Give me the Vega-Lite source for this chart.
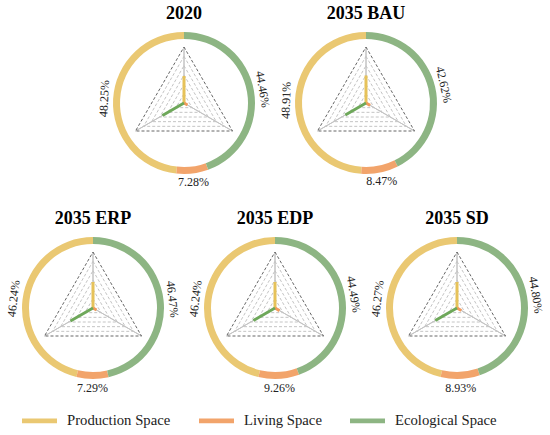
{
  "$schema": "https://vega.github.io/schema/vega-lite/v6.json",
  "padding": {"left": 2, "top": 5, "right": 2, "bottom": 0},
  "datasets": {
    "shares": [
      {"scenario": "2020", "space": "Production Space", "value": 0.4825},
      {"scenario": "2020", "space": "Living Space", "value": 0.0728},
      {"scenario": "2020", "space": "Ecological Space", "value": 0.4446},
      {"scenario": "2035 BAU", "space": "Production Space", "value": 0.4891},
      {"scenario": "2035 BAU", "space": "Living Space", "value": 0.0847},
      {"scenario": "2035 BAU", "space": "Ecological Space", "value": 0.4262},
      {"scenario": "2035 ERP", "space": "Production Space", "value": 0.4624},
      {"scenario": "2035 ERP", "space": "Living Space", "value": 0.0729},
      {"scenario": "2035 ERP", "space": "Ecological Space", "value": 0.4647},
      {"scenario": "2035 EDP", "space": "Production Space", "value": 0.4624},
      {"scenario": "2035 EDP", "space": "Living Space", "value": 0.0926},
      {"scenario": "2035 EDP", "space": "Ecological Space", "value": 0.4449},
      {"scenario": "2035 SD", "space": "Production Space", "value": 0.4627},
      {"scenario": "2035 SD", "space": "Living Space", "value": 0.0893},
      {"scenario": "2035 SD", "space": "Ecological Space", "value": 0.4480}
    ],
    "levels": [
      {"level": 1}, {"level": 2}, {"level": 3}, {"level": 4}, {"level": 5}, {"level": 6}
    ]
  },
  "spacing": 20,
  "center": true,
  "vconcat": [
    {
      "spacing": 0,
      "hconcat": [
        {
          "title": "2020",
          "width": 182, "height": 174,
          "data": {"name": "shares"},
          "transform": [{"filter": "datum.scenario === '2020'"}],
          "resolve": {"scale": {"theta": "independent"}},
          "layer": [
            {
              "mark": {"type": "arc", "innerRadius": 64, "outerRadius": 71},
              "encoding": {
                "theta": {"field": "value", "type": "quantitative", "stack": true},
                "order": {"field": "space", "type": "ordinal", "sort": "ascending"},
                "color": {"field": "space", "type": "nominal", "scale": {"domain": ["Production Space", "Living Space", "Ecological Space"], "range": ["#EAC872", "#F2A46B", "#8DB583"]}}
              }
            },
            {
              "mark": {"type": "arc", "outerRadius": 56, "filled": false, "stroke": "#c4c4c4", "strokeWidth": 1},
              "encoding": {
                "theta": {"field": "space", "type": "nominal", "scale": {"type": "point", "domain": ["Production Space", "Living Space", "Ecological Space"], "range": [0, 4.18879], "padding": 0}},
                "theta2": {"field": "space"}
              }
            },
            {
              "data": {"name": "levels"},
              "transform": [{"filter": "datum.level < 6"}],
              "mark": {"type": "point", "shape": "M0,-1L0.866,0.5L-0.866,0.5Z", "filled": false, "stroke": "#c4c4c4", "strokeWidth": 1, "strokeDash": [3, 2], "opacity": 1},
              "encoding": {"size": {"field": "level", "type": "quantitative", "scale": {"type": "pow", "exponent": 2, "domain": [0, 6], "range": [0, 12544]}, "legend": null}}
            },
            {
              "data": {"name": "levels"},
              "transform": [{"filter": "datum.level == 6"}],
              "mark": {"type": "point", "shape": "M0,-1L0.866,0.5L-0.866,0.5Z", "filled": false, "stroke": "#666666", "strokeWidth": 1, "strokeDash": [3, 2], "opacity": 1},
              "encoding": {"size": {"field": "level", "type": "quantitative", "scale": {"type": "pow", "exponent": 2, "domain": [0, 6], "range": [0, 12544]}, "legend": null}}
            },
            {
              "mark": {"type": "arc", "filled": false, "strokeWidth": 3},
              "encoding": {
                "theta": {"field": "space", "type": "nominal", "scale": {"type": "point", "domain": ["Production Space", "Living Space", "Ecological Space"], "range": [0, 4.18879], "padding": 0}},
                "theta2": {"field": "space"},
                "radius": {"field": "value", "type": "quantitative", "scale": {"type": "linear", "domain": [0, 1], "range": [0, 56], "zero": true}},
                "stroke": {"condition": [{"test": "datum.space === 'Ecological Space'", "value": "#6EA85A"}, {"test": "datum.space === 'Living Space'", "value": "#F29A5C"}], "value": "#E6C25A"}
              }
            },
            {
              "mark": {"type": "text", "radius": 80, "fontSize": 12, "color": "#222222"},
              "encoding": {
                "theta": {"field": "value", "type": "quantitative", "stack": true},
                "order": {"field": "space", "type": "ordinal", "sort": "ascending"},
                "detail": {"field": "space"},
                "text": {"field": "value", "type": "quantitative", "format": ".2%"},
                "angle": {"condition": [{"test": "datum.space === 'Ecological Space'", "value": 80}, {"test": "datum.space === 'Living Space'", "value": 0}], "value": 273}
              }
            }
          ]
        },
        {
          "title": "2035 BAU",
          "width": 182, "height": 174,
          "data": {"name": "shares"},
          "transform": [{"filter": "datum.scenario === '2035 BAU'"}],
          "resolve": {"scale": {"theta": "independent"}},
          "layer": [
            {
              "mark": {"type": "arc", "innerRadius": 64, "outerRadius": 71},
              "encoding": {
                "theta": {"field": "value", "type": "quantitative", "stack": true},
                "order": {"field": "space", "type": "ordinal", "sort": "ascending"},
                "color": {"field": "space", "type": "nominal", "scale": {"domain": ["Production Space", "Living Space", "Ecological Space"], "range": ["#EAC872", "#F2A46B", "#8DB583"]}}
              }
            },
            {
              "mark": {"type": "arc", "outerRadius": 56, "filled": false, "stroke": "#c4c4c4", "strokeWidth": 1},
              "encoding": {
                "theta": {"field": "space", "type": "nominal", "scale": {"type": "point", "domain": ["Production Space", "Living Space", "Ecological Space"], "range": [0, 4.18879], "padding": 0}},
                "theta2": {"field": "space"}
              }
            },
            {
              "data": {"name": "levels"},
              "transform": [{"filter": "datum.level < 6"}],
              "mark": {"type": "point", "shape": "M0,-1L0.866,0.5L-0.866,0.5Z", "filled": false, "stroke": "#c4c4c4", "strokeWidth": 1, "strokeDash": [3, 2], "opacity": 1},
              "encoding": {"size": {"field": "level", "type": "quantitative", "scale": {"type": "pow", "exponent": 2, "domain": [0, 6], "range": [0, 12544]}, "legend": null}}
            },
            {
              "data": {"name": "levels"},
              "transform": [{"filter": "datum.level == 6"}],
              "mark": {"type": "point", "shape": "M0,-1L0.866,0.5L-0.866,0.5Z", "filled": false, "stroke": "#666666", "strokeWidth": 1, "strokeDash": [3, 2], "opacity": 1},
              "encoding": {"size": {"field": "level", "type": "quantitative", "scale": {"type": "pow", "exponent": 2, "domain": [0, 6], "range": [0, 12544]}, "legend": null}}
            },
            {
              "mark": {"type": "arc", "filled": false, "strokeWidth": 3},
              "encoding": {
                "theta": {"field": "space", "type": "nominal", "scale": {"type": "point", "domain": ["Production Space", "Living Space", "Ecological Space"], "range": [0, 4.18879], "padding": 0}},
                "theta2": {"field": "space"},
                "radius": {"field": "value", "type": "quantitative", "scale": {"type": "linear", "domain": [0, 1], "range": [0, 56], "zero": true}},
                "stroke": {"condition": [{"test": "datum.space === 'Ecological Space'", "value": "#6EA85A"}, {"test": "datum.space === 'Living Space'", "value": "#F29A5C"}], "value": "#E6C25A"}
              }
            },
            {
              "mark": {"type": "text", "radius": 80, "fontSize": 12, "color": "#222222"},
              "encoding": {
                "theta": {"field": "value", "type": "quantitative", "stack": true},
                "order": {"field": "space", "type": "ordinal", "sort": "ascending"},
                "detail": {"field": "space"},
                "text": {"field": "value", "type": "quantitative", "format": ".2%"},
                "angle": {"condition": [{"test": "datum.space === 'Ecological Space'", "value": 77}, {"test": "datum.space === 'Living Space'", "value": 0}], "value": 272}
              }
            }
          ]
        }
      ]
    },
    {
      "spacing": 0,
      "hconcat": [
        {
          "title": "2035 ERP",
          "width": 182, "height": 174,
          "data": {"name": "shares"},
          "transform": [{"filter": "datum.scenario === '2035 ERP'"}],
          "resolve": {"scale": {"theta": "independent"}},
          "layer": [
            {
              "mark": {"type": "arc", "innerRadius": 64, "outerRadius": 71},
              "encoding": {
                "theta": {"field": "value", "type": "quantitative", "stack": true},
                "order": {"field": "space", "type": "ordinal", "sort": "ascending"},
                "color": {"field": "space", "type": "nominal", "scale": {"domain": ["Production Space", "Living Space", "Ecological Space"], "range": ["#EAC872", "#F2A46B", "#8DB583"]}}
              }
            },
            {
              "mark": {"type": "arc", "outerRadius": 56, "filled": false, "stroke": "#c4c4c4", "strokeWidth": 1},
              "encoding": {
                "theta": {"field": "space", "type": "nominal", "scale": {"type": "point", "domain": ["Production Space", "Living Space", "Ecological Space"], "range": [0, 4.18879], "padding": 0}},
                "theta2": {"field": "space"}
              }
            },
            {
              "data": {"name": "levels"},
              "transform": [{"filter": "datum.level < 6"}],
              "mark": {"type": "point", "shape": "M0,-1L0.866,0.5L-0.866,0.5Z", "filled": false, "stroke": "#c4c4c4", "strokeWidth": 1, "strokeDash": [3, 2], "opacity": 1},
              "encoding": {"size": {"field": "level", "type": "quantitative", "scale": {"type": "pow", "exponent": 2, "domain": [0, 6], "range": [0, 12544]}, "legend": null}}
            },
            {
              "data": {"name": "levels"},
              "transform": [{"filter": "datum.level == 6"}],
              "mark": {"type": "point", "shape": "M0,-1L0.866,0.5L-0.866,0.5Z", "filled": false, "stroke": "#666666", "strokeWidth": 1, "strokeDash": [3, 2], "opacity": 1},
              "encoding": {"size": {"field": "level", "type": "quantitative", "scale": {"type": "pow", "exponent": 2, "domain": [0, 6], "range": [0, 12544]}, "legend": null}}
            },
            {
              "mark": {"type": "arc", "filled": false, "strokeWidth": 3},
              "encoding": {
                "theta": {"field": "space", "type": "nominal", "scale": {"type": "point", "domain": ["Production Space", "Living Space", "Ecological Space"], "range": [0, 4.18879], "padding": 0}},
                "theta2": {"field": "space"},
                "radius": {"field": "value", "type": "quantitative", "scale": {"type": "linear", "domain": [0, 1], "range": [0, 56], "zero": true}},
                "stroke": {"condition": [{"test": "datum.space === 'Ecological Space'", "value": "#6EA85A"}, {"test": "datum.space === 'Living Space'", "value": "#F29A5C"}], "value": "#E6C25A"}
              }
            },
            {
              "mark": {"type": "text", "radius": 80, "fontSize": 12, "color": "#222222"},
              "encoding": {
                "theta": {"field": "value", "type": "quantitative", "stack": true},
                "order": {"field": "space", "type": "ordinal", "sort": "ascending"},
                "detail": {"field": "space"},
                "text": {"field": "value", "type": "quantitative", "format": ".2%"},
                "angle": {"condition": [{"test": "datum.space === 'Ecological Space'", "value": 84}, {"test": "datum.space === 'Living Space'", "value": 0}], "value": 277}
              }
            }
          ]
        },
        {
          "title": "2035 EDP",
          "width": 182, "height": 174,
          "data": {"name": "shares"},
          "transform": [{"filter": "datum.scenario === '2035 EDP'"}],
          "resolve": {"scale": {"theta": "independent"}},
          "layer": [
            {
              "mark": {"type": "arc", "innerRadius": 64, "outerRadius": 71},
              "encoding": {
                "theta": {"field": "value", "type": "quantitative", "stack": true},
                "order": {"field": "space", "type": "ordinal", "sort": "ascending"},
                "color": {"field": "space", "type": "nominal", "scale": {"domain": ["Production Space", "Living Space", "Ecological Space"], "range": ["#EAC872", "#F2A46B", "#8DB583"]}}
              }
            },
            {
              "mark": {"type": "arc", "outerRadius": 56, "filled": false, "stroke": "#c4c4c4", "strokeWidth": 1},
              "encoding": {
                "theta": {"field": "space", "type": "nominal", "scale": {"type": "point", "domain": ["Production Space", "Living Space", "Ecological Space"], "range": [0, 4.18879], "padding": 0}},
                "theta2": {"field": "space"}
              }
            },
            {
              "data": {"name": "levels"},
              "transform": [{"filter": "datum.level < 6"}],
              "mark": {"type": "point", "shape": "M0,-1L0.866,0.5L-0.866,0.5Z", "filled": false, "stroke": "#c4c4c4", "strokeWidth": 1, "strokeDash": [3, 2], "opacity": 1},
              "encoding": {"size": {"field": "level", "type": "quantitative", "scale": {"type": "pow", "exponent": 2, "domain": [0, 6], "range": [0, 12544]}, "legend": null}}
            },
            {
              "data": {"name": "levels"},
              "transform": [{"filter": "datum.level == 6"}],
              "mark": {"type": "point", "shape": "M0,-1L0.866,0.5L-0.866,0.5Z", "filled": false, "stroke": "#666666", "strokeWidth": 1, "strokeDash": [3, 2], "opacity": 1},
              "encoding": {"size": {"field": "level", "type": "quantitative", "scale": {"type": "pow", "exponent": 2, "domain": [0, 6], "range": [0, 12544]}, "legend": null}}
            },
            {
              "mark": {"type": "arc", "filled": false, "strokeWidth": 3},
              "encoding": {
                "theta": {"field": "space", "type": "nominal", "scale": {"type": "point", "domain": ["Production Space", "Living Space", "Ecological Space"], "range": [0, 4.18879], "padding": 0}},
                "theta2": {"field": "space"},
                "radius": {"field": "value", "type": "quantitative", "scale": {"type": "linear", "domain": [0, 1], "range": [0, 56], "zero": true}},
                "stroke": {"condition": [{"test": "datum.space === 'Ecological Space'", "value": "#6EA85A"}, {"test": "datum.space === 'Living Space'", "value": "#F29A5C"}], "value": "#E6C25A"}
              }
            },
            {
              "mark": {"type": "text", "radius": 80, "fontSize": 12, "color": "#222222"},
              "encoding": {
                "theta": {"field": "value", "type": "quantitative", "stack": true},
                "order": {"field": "space", "type": "ordinal", "sort": "ascending"},
                "detail": {"field": "space"},
                "text": {"field": "value", "type": "quantitative", "format": ".2%"},
                "angle": {"condition": [{"test": "datum.space === 'Ecological Space'", "value": 80}, {"test": "datum.space === 'Living Space'", "value": 0}], "value": 277}
              }
            }
          ]
        },
        {
          "title": "2035 SD",
          "width": 182, "height": 174,
          "data": {"name": "shares"},
          "transform": [{"filter": "datum.scenario === '2035 SD'"}],
          "resolve": {"scale": {"theta": "independent"}},
          "layer": [
            {
              "mark": {"type": "arc", "innerRadius": 64, "outerRadius": 71},
              "encoding": {
                "theta": {"field": "value", "type": "quantitative", "stack": true},
                "order": {"field": "space", "type": "ordinal", "sort": "ascending"},
                "color": {"field": "space", "type": "nominal", "scale": {"domain": ["Production Space", "Living Space", "Ecological Space"], "range": ["#EAC872", "#F2A46B", "#8DB583"]}}
              }
            },
            {
              "mark": {"type": "arc", "outerRadius": 56, "filled": false, "stroke": "#c4c4c4", "strokeWidth": 1},
              "encoding": {
                "theta": {"field": "space", "type": "nominal", "scale": {"type": "point", "domain": ["Production Space", "Living Space", "Ecological Space"], "range": [0, 4.18879], "padding": 0}},
                "theta2": {"field": "space"}
              }
            },
            {
              "data": {"name": "levels"},
              "transform": [{"filter": "datum.level < 6"}],
              "mark": {"type": "point", "shape": "M0,-1L0.866,0.5L-0.866,0.5Z", "filled": false, "stroke": "#c4c4c4", "strokeWidth": 1, "strokeDash": [3, 2], "opacity": 1},
              "encoding": {"size": {"field": "level", "type": "quantitative", "scale": {"type": "pow", "exponent": 2, "domain": [0, 6], "range": [0, 12544]}, "legend": null}}
            },
            {
              "data": {"name": "levels"},
              "transform": [{"filter": "datum.level == 6"}],
              "mark": {"type": "point", "shape": "M0,-1L0.866,0.5L-0.866,0.5Z", "filled": false, "stroke": "#666666", "strokeWidth": 1, "strokeDash": [3, 2], "opacity": 1},
              "encoding": {"size": {"field": "level", "type": "quantitative", "scale": {"type": "pow", "exponent": 2, "domain": [0, 6], "range": [0, 12544]}, "legend": null}}
            },
            {
              "mark": {"type": "arc", "filled": false, "strokeWidth": 3},
              "encoding": {
                "theta": {"field": "space", "type": "nominal", "scale": {"type": "point", "domain": ["Production Space", "Living Space", "Ecological Space"], "range": [0, 4.18879], "padding": 0}},
                "theta2": {"field": "space"},
                "radius": {"field": "value", "type": "quantitative", "scale": {"type": "linear", "domain": [0, 1], "range": [0, 56], "zero": true}},
                "stroke": {"condition": [{"test": "datum.space === 'Ecological Space'", "value": "#6EA85A"}, {"test": "datum.space === 'Living Space'", "value": "#F29A5C"}], "value": "#E6C25A"}
              }
            },
            {
              "mark": {"type": "text", "radius": 80, "fontSize": 12, "color": "#222222"},
              "encoding": {
                "theta": {"field": "value", "type": "quantitative", "stack": true},
                "order": {"field": "space", "type": "ordinal", "sort": "ascending"},
                "detail": {"field": "space"},
                "text": {"field": "value", "type": "quantitative", "format": ".2%"},
                "angle": {"condition": [{"test": "datum.space === 'Ecological Space'", "value": 81}, {"test": "datum.space === 'Living Space'", "value": 0}], "value": 277}
              }
            }
          ]
        }
      ]
    }
  ],
  "config": {
    "view": {"stroke": null},
    "font": "Liberation Serif",
    "title": {"font": "Liberation Serif", "fontSize": 18, "fontWeight": "bold", "color": "#000000", "offset": -7},
    "legend": {
      "orient": "none",
      "legendX": 20,
      "legendY": 387,
      "direction": "horizontal",
      "title": null,
      "symbolType": "M-1,-0.14H1V0.14H-1Z",
      "symbolSize": 1225,
      "symbolStrokeWidth": 0,
      "labelFont": "Liberation Serif",
      "labelFontSize": 14.7,
      "labelColor": "#222222",
      "labelOffset": 10,
      "columnPadding": 28
    }
  }
}
